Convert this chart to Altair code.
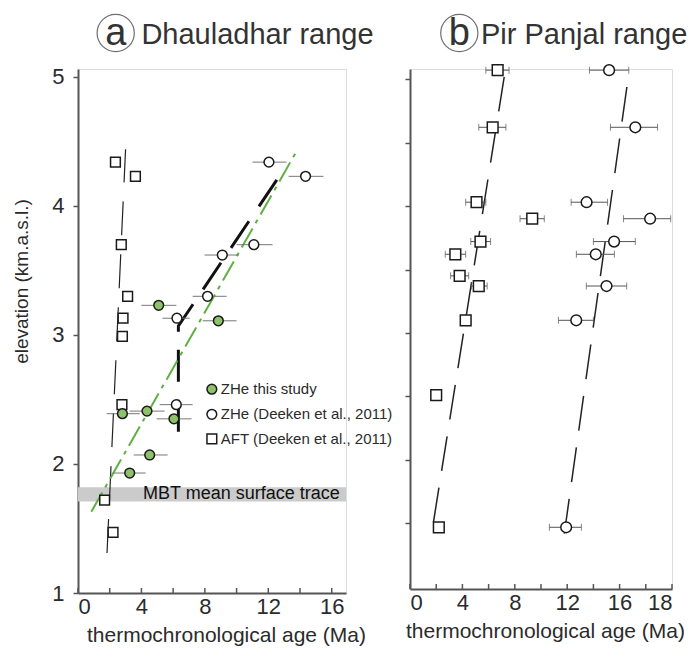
import altair as alt
import pandas as pd

# ---------------- Panel a: Dhauladhar range ----------------
a_zhe_this_age = [5.09, 8.85, 2.80, 4.35, 6.05, 4.52, 3.26]
a_zhe_this_elev = [3.23, 3.11, 2.39, 2.41, 2.35, 2.07, 1.93]
a_zhe_this_lo = [4.00, 7.86, 1.81, 3.26, 4.96, 3.51, 2.19]
a_zhe_this_hi = [6.20, 10.00, 3.89, 5.46, 7.16, 5.65, 4.27]

a_zhe_deeken_age = [12.04, 14.35, 11.09, 9.10, 8.17, 6.24, 6.20]
a_zhe_deeken_elev = [4.34, 4.23, 3.70, 3.62, 3.30, 3.13, 2.46]
a_zhe_deeken_lo = [11.00, 13.28, 10.00, 7.98, 7.23, 5.32, 5.15]
a_zhe_deeken_hi = [13.15, 15.48, 12.27, 10.13, 9.37, 7.04, 7.23]

a_aft_age = [2.36, 3.62, 2.73, 3.13, 2.84, 2.80, 2.77, 1.68, 2.21]
a_aft_elev = [4.34, 4.23, 3.70, 3.30, 3.13, 2.99, 2.46, 1.72, 1.47]

a_fit_this_age = [0.84, 13.76]
a_fit_this_elev = [1.63, 4.42]
a_fit_zhe_age = [6.33, 6.33, 12.96]
a_fit_zhe_elev = [2.25, 3.07, 4.28]
a_fit_aft_age = [1.83, 3.00]
a_fit_aft_elev = [1.31, 4.44]

mbt_age = [0, 16.9]
mbt_elev = [1.71, 1.82]
mbt_label = "MBT mean surface trace"
mbt_label_pos = [4.1, 1.765]

# legend entries (anchored in panel a data space, as in the original)
series_names = ["ZHe this study", "ZHe (Deeken et al., 2011)", "AFT (Deeken et al., 2011)"]
legend_age = [8.44, 8.44, 8.44]
legend_elev = [2.58, 2.385, 2.195]

a_xticks = [0, 2, 4, 6, 8, 10, 12, 14, 16]
a_yticks = [1, 1.5, 2, 2.5, 3, 3.5, 4, 4.5, 5]

# ---------------- Panel b: Pir Panjal range ----------------
b_zhe_age = [15.20, 17.20, 13.48, 18.33, 15.58, 14.18, 15.00, 12.69, 11.92]
b_zhe_elev = [5.07, 4.62, 4.03, 3.90, 3.72, 3.62, 3.37, 3.10, 1.47]
b_zhe_lo = [13.70, 15.30, 12.30, 16.30, 14.00, 12.70, 13.46, 11.33, 10.64]
b_zhe_hi = [16.70, 18.90, 15.08, 19.90, 17.20, 15.60, 16.54, 14.00, 13.08]

b_aft_age = [6.69, 6.31, 5.08, 9.33, 5.38, 3.46, 3.79, 5.25, 4.25, 2.00, 2.20]
b_aft_elev = [5.07, 4.62, 4.03, 3.90, 3.72, 3.62, 3.45, 3.37, 3.10, 2.51, 1.47]
b_aft_lo = [5.79, 5.25, 4.25, 8.40, 4.64, 2.69, 3.10, 4.69, 3.95, 1.80, 2.20]
b_aft_hi = [7.56, 7.32, 5.79, 10.25, 6.15, 4.25, 4.48, 5.89, 4.55, 2.20, 2.20]

b_fit_aft_age = [1.79, 7.38]
b_fit_aft_elev = [1.51, 5.14]
b_fit_zhe_age = [11.78, 16.60]
b_fit_zhe_elev = [1.42, 4.97]

b_xticks = [0, 2, 4, 6, 8, 10, 12, 14, 16, 18, 20]
b_yticks = [1.5, 2, 2.5, 3, 3.5, 4, 4.5, 5]

GREEN_FILL = "#8dc26b"
GREEN_LINE = "#5fb043"
FONT = "Liberation Sans"
INK = "#2b2b2b"
AXIS = "#555555"

# ---------------- data tables ----------------
a_pts = pd.concat([
    pd.DataFrame({"age": a_zhe_deeken_age, "elev": a_zhe_deeken_elev, "lo": a_zhe_deeken_lo,
                  "hi": a_zhe_deeken_hi, "series": series_names[1], "k": 1}),
    pd.DataFrame({"age": a_aft_age, "elev": a_aft_elev, "lo": a_aft_age,
                  "hi": a_aft_age, "series": series_names[2], "k": 0}),
    pd.DataFrame({"age": a_zhe_this_age, "elev": a_zhe_this_elev, "lo": a_zhe_this_lo,
                  "hi": a_zhe_this_hi, "series": series_names[0], "k": 2}),
], ignore_index=True)
a_err = a_pts[a_pts["series"] != series_names[2]]
legend_df = pd.DataFrame({"age": legend_age, "elev": legend_elev, "series": series_names})

b_pts = pd.concat([
    pd.DataFrame({"age": b_zhe_age, "elev": b_zhe_elev, "lo": b_zhe_lo, "hi": b_zhe_hi,
                  "series": series_names[1]}),
    pd.DataFrame({"age": b_aft_age, "elev": b_aft_elev, "lo": b_aft_lo, "hi": b_aft_hi,
                  "series": series_names[2]}),
], ignore_index=True)
b_caps = pd.concat([
    pd.DataFrame({"age": b_pts["lo"], "elev": b_pts["elev"]}),
    pd.DataFrame({"age": b_pts["hi"], "elev": b_pts["elev"]}),
], ignore_index=True)

shape_scale = alt.Scale(domain=series_names, range=["circle", "circle", "square"])
fill_scale = alt.Scale(domain=series_names, range=[GREEN_FILL, "white", "white"])

# ---------------- scales / axes ----------------
A_W, A_H = 268, 524
B_W, B_H = 262, 520
xa_scale = alt.Scale(domain=[0, 16.9], nice=False, zero=False)
xb_scale = alt.Scale(domain=[0, 20], nice=False, zero=False)
ya_scale = alt.Scale(domain=[1, 5.062], nice=False, zero=False)
yb_scale = alt.Scale(domain=[0.984, 5.079], nice=False, zero=False)

ax_common = dict(domainColor=AXIS, domainWidth=2, tickColor=AXIS, tickWidth=1.5,
                 labelFont=FONT, labelColor=INK,
                 titleFont=FONT, titleFontWeight="normal", titleColor=INK, grid=False)

xa_axis = alt.Axis(values=a_xticks, format="d", ticks=False,
                   labelExpr="datum.value % 4 == 0 ? datum.label : ''",
                   title="thermochronological age (Ma)", titleFontSize=21, titlePadding=7,
                   titleX=A_W / 2 + 14, labelFontSize=22, labelPadding=3, **ax_common)
xb_axis = alt.Axis(values=b_xticks, format="d", ticks=False,
                   labelExpr="datum.value == 20 ? '18' : (datum.value % 4 == 0 ? datum.label : '')",
                   title="thermochronological age (Ma)", titleFontSize=21, titlePadding=7,
                   titleX=B_W / 2 + 4, labelFontSize=22, labelPadding=3, **ax_common)
ya_axis = alt.Axis(values=a_yticks, format="d", tickSize=5,
                   labelExpr="datum.value % 1 == 0 ? datum.label : ''",
                   title="elevation (km.a.s.l.)", titleFontSize=19, titlePadding=20,
                   titleY=212, labelFontSize=22, labelPadding=9, **ax_common)
yb_axis = alt.Axis(values=b_yticks, labels=False, title=None, tickSize=5, **ax_common)


def X(field, scale, axis):
    return alt.X(f"{field}:Q", scale=scale, axis=axis)


def Y(field, scale, axis):
    return alt.Y(f"{field}:Q", scale=scale, axis=axis)


def line_layer(ages, elevs, color, width, dash, xs, xax, ys, yax):
    df = pd.DataFrame({"age": ages, "elev": elevs, "o": list(range(len(ages)))})
    return alt.Chart(df).mark_line(color=color, strokeWidth=width, strokeDash=dash).encode(
        x=X("age", xs, xax), y=Y("elev", ys, yax), order="o:Q")


def inner_ticks(values, xs, xax, h):
    df = pd.DataFrame({"age": values})
    return alt.Chart(df).mark_rule(color=AXIS, strokeWidth=1.5).encode(
        x=X("age", xs, xax), y=alt.value(h - 5), y2=alt.value(h))


def title_layers(letter, name, cx, tx):
    d = pd.DataFrame({"letter": [letter], "name": [name]})
    ring = alt.Chart(d).mark_point(shape="circle", size=1385, filled=False, color="#333",
                                   strokeWidth=1.2).encode(x=alt.value(cx), y=alt.value(-36))
    let = alt.Chart(d).mark_text(font=FONT, fontSize=38, color="#333", align="center",
                                 baseline="alphabetic").encode(
        x=alt.value(cx), y=alt.value(-24), text="letter:N")
    nm = alt.Chart(d).mark_text(font=FONT, fontSize=29, color="#333", align="left",
                                baseline="alphabetic").encode(
        x=alt.value(tx), y=alt.value(-25), text="name:N")
    return [ring, let, nm]


# ---------------- panel a ----------------
band = alt.Chart(pd.DataFrame({"x0": [mbt_age[0]], "x1": [mbt_age[1]],
                               "y0": [mbt_elev[0]], "y1": [mbt_elev[1]]})).mark_rect(
    color="#cbcbcb").encode(x=X("x0", xa_scale, xa_axis), x2="x1:Q",
                            y=Y("y0", ya_scale, ya_axis), y2="y1:Q")
mbt_text = alt.Chart(pd.DataFrame({"age": [mbt_label_pos[0]], "elev": [mbt_label_pos[1]],
                                   "t": [mbt_label]})).mark_text(
    font=FONT, fontSize=18, color="#111", align="left", baseline="middle").encode(
    x=X("age", xa_scale, xa_axis), y=Y("elev", ya_scale, ya_axis), text="t:N")

a_lines = [
    line_layer(a_fit_aft_age, a_fit_aft_elev, "#222", 1.2, [34, 19], xa_scale, xa_axis, ya_scale, ya_axis),
    line_layer(a_fit_zhe_age, a_fit_zhe_elev, "#111", 3, [32, 18], xa_scale, xa_axis, ya_scale, ya_axis),
    line_layer(a_fit_this_age, a_fit_this_elev, GREEN_LINE, 2, [22, 6, 4, 6], xa_scale, xa_axis, ya_scale, ya_axis),
]
a_err_rules = alt.Chart(a_err).mark_rule(color="#777", strokeWidth=1).encode(
    x=X("lo", xa_scale, xa_axis), x2="hi:Q", y=Y("elev", ya_scale, ya_axis))

a_points = alt.Chart(a_pts).mark_point(filled=True, size=95, stroke="#1a1a1a",
                                       strokeWidth=1.5, opacity=1).encode(
    x=X("age", xa_scale, xa_axis), y=Y("elev", ya_scale, ya_axis),
    shape=alt.Shape("series:N", scale=shape_scale, legend=None),
    fill=alt.Fill("series:N", scale=fill_scale, legend=None),
    order=alt.Order("k:Q"),
)
legend_sym = alt.Chart(legend_df).mark_point(filled=True, size=95, stroke="#1a1a1a",
                                             strokeWidth=1.5, opacity=1).encode(
    x=X("age", xa_scale, xa_axis), y=Y("elev", ya_scale, ya_axis),
    shape=alt.Shape("series:N", scale=shape_scale, legend=None),
    fill=alt.Fill("series:N", scale=fill_scale, legend=None),
)
legend_txt = alt.Chart(legend_df).mark_text(font=FONT, fontSize=15, color=INK, align="left",
                                            baseline="middle", dx=9).encode(
    x=X("age", xa_scale, xa_axis), y=Y("elev", ya_scale, ya_axis), text="series:N")

panel_a = alt.layer(band, mbt_text, *a_lines, a_err_rules, a_points, legend_sym, legend_txt,
                    inner_ticks(a_xticks, xa_scale, xa_axis, A_H),
                    *title_layers("a", "Dhauladhar range", 37.7, 63.4)).properties(
    width=A_W, height=A_H)

# ---------------- panel b ----------------
b_lines = [
    line_layer(b_fit_aft_age, b_fit_aft_elev, "#222", 1.5, [35, 17], xb_scale, xb_axis, yb_scale, yb_axis),
    line_layer(b_fit_zhe_age, b_fit_zhe_elev, "#222", 1.5, [35, 17], xb_scale, xb_axis, yb_scale, yb_axis),
]
b_err_rules = alt.Chart(b_pts).mark_rule(color="#555", strokeWidth=1).encode(
    x=X("lo", xb_scale, xb_axis), x2="hi:Q", y=Y("elev", yb_scale, yb_axis))
b_cap_ticks = alt.Chart(b_caps).mark_tick(orient="vertical", size=7, thickness=1,
                                          color="#555").encode(
    x=X("age", xb_scale, xb_axis), y=Y("elev", yb_scale, yb_axis))
b_points = alt.Chart(b_pts).mark_point(filled=True, size=115, stroke="#1a1a1a",
                                       strokeWidth=1.5, opacity=1).encode(
    x=X("age", xb_scale, xb_axis), y=Y("elev", yb_scale, yb_axis),
    shape=alt.Shape("series:N", scale=shape_scale, legend=None),
    fill=alt.Fill("series:N", scale=fill_scale, legend=None),
)

panel_b = alt.layer(*b_lines, b_err_rules, b_cap_ticks, b_points,
                    inner_ticks(b_xticks, xb_scale, xb_axis, B_H),
                    *title_layers("b", "Pir Panjal range", 49.3, 71)).properties(
    width=B_W, height=B_H)

chart = alt.hconcat(panel_a, panel_b, spacing=64, bounds="flush").resolve_scale(
    x="independent", y="independent", shape="independent", fill="independent"
).resolve_axis(
    x="independent", y="independent"
).properties(padding={"left": 4, "top": 3, "right": 0, "bottom": 0}).configure_view(
    stroke=None).configure(background="white")

chart.save("out.html", embed_options={"renderer": "svg", "actions": False})
